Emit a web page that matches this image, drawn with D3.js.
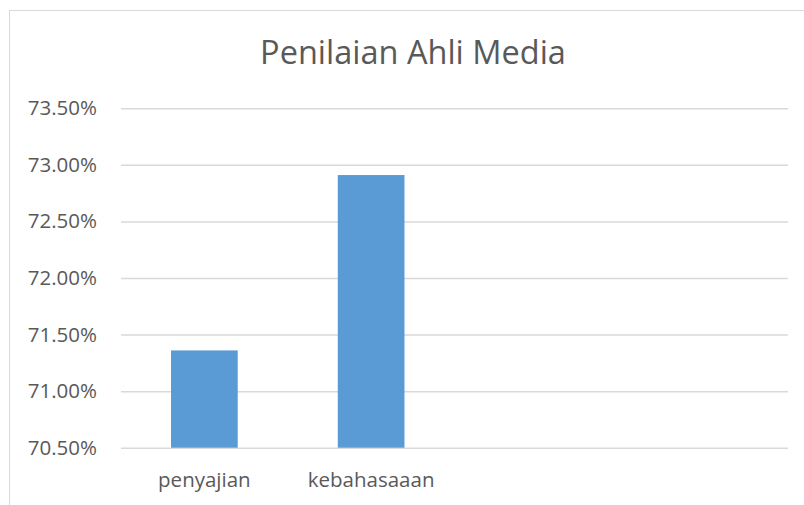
<!DOCTYPE html>
<html>
<head>
<meta charset="utf-8">
<script src="https://cdn.jsdelivr.net/npm/d3@7"></script>
<style>
  body { margin: 0; background: #fff; }
  svg { display: block; font-family: "Open Sans", sans-serif; }
  .grid line { stroke: #d9d9d9; stroke-width: 1.5; }
  .grid path { display: none; }
  .axis path, .axis line { display: none; }
  .axis text { fill: #595959; font-family: "Open Sans", sans-serif; }
  .y.axis text { font-size: 20.5px; }
  .x.axis text { font-size: 20.5px; }
</style>
</head>
<body>
<svg id="chart" width="804" height="505"></svg>
<script>
// --- data ---
var categories = ["penyajian", "kebahasaaan", "", ""]
var values = [0.7136, 0.7291]
var yTicks = [0.705, 0.71, 0.715, 0.72, 0.725, 0.73, 0.735]
var title = "Penilaian Ahli Media"

var svg = d3.select("#chart")

// chart frame (right and bottom edges run off the picture)
svg.append("rect")
    .attr("x", 9.5).attr("y", 10.5)
    .attr("width", 820).attr("height", 520)
    .attr("fill", "#fff")
    .attr("stroke", "#d9d9d9")
    .attr("stroke-width", 1)

var plotLeft = 121, plotRight = 788, plotTop = 108.3, plotBottom = 447.7

var xScale = d3.scaleBand()
    .domain(d3.range(categories.length))
    .range([plotLeft, plotRight])
    .paddingInner(0.6)
    .paddingOuter(0.3)

var yScale = d3.scaleLinear()
    .domain([0.705, 0.735])
    .range([plotBottom, plotTop])

// gridlines
svg.append("g")
    .attr("class", "grid")
    .attr("transform", "translate(" + plotLeft + ",0)")
    .call(d3.axisLeft(yScale)
        .tickValues(yTicks)
        .tickSize(-(plotRight - plotLeft))
        .tickFormat(""))

// y axis labels
svg.append("g")
    .attr("class", "y axis")
    .attr("transform", "translate(" + (plotLeft - 18) + ",0)")
    .call(d3.axisLeft(yScale)
        .tickValues(yTicks)
        .tickSize(0)
        .tickPadding(6)
        .tickFormat(d3.format(".2%")))

// x axis labels
svg.append("g")
    .attr("class", "x axis")
    .attr("transform", "translate(0," + plotBottom + ")")
    .call(d3.axisBottom(xScale)
        .tickSize(0)
        .tickPadding(24.5)
        .tickFormat(function(i) { return categories[i]; }))

// bars
svg.append("g")
    .selectAll("rect")
    .data(values)
    .enter().append("rect")
    .attr("x", function(d, i) { return xScale(i); })
    .attr("width", xScale.bandwidth())
    .attr("y", function(d) { return yScale(d); })
    .attr("height", function(d) { return plotBottom - yScale(d); })
    .attr("fill", "#5b9bd5")

// title
svg.append("text")
    .attr("x", 413)
    .attr("y", 64)
    .attr("text-anchor", "middle")
    .attr("fill", "#595959")
    .attr("font-size", "32.5px")
    .text(title)
</script>
</body>
</html>
